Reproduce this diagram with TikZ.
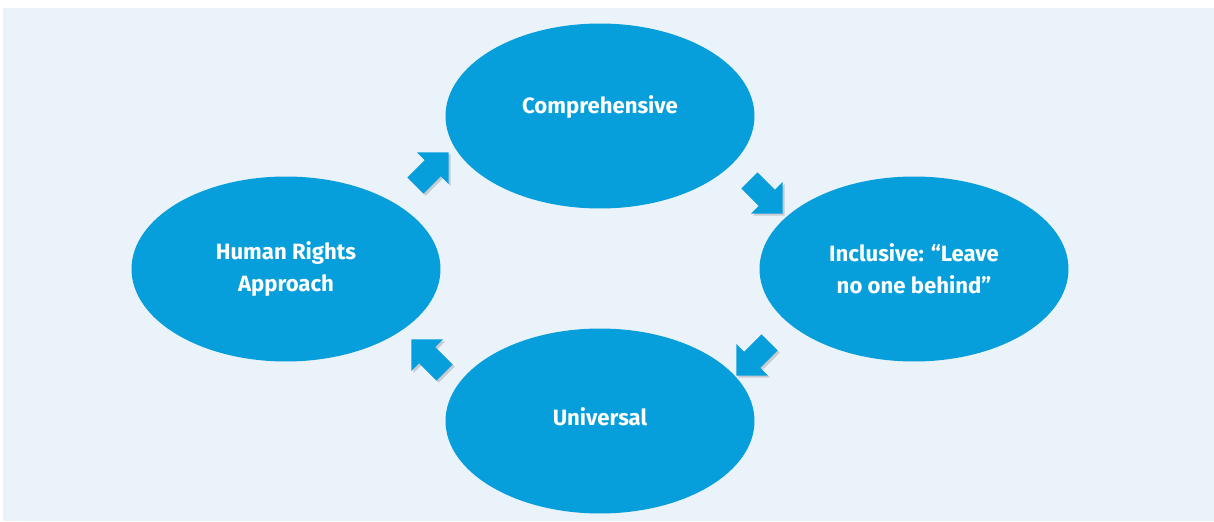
\documentclass[tikz,border=0pt]{standalone}
\usepackage{fontspec}
\setmainfont{Fira Sans}
\usepackage{tikz}
\usetikzlibrary{shapes.geometric, shapes.arrows, shadows}
\definecolor{panelblue}{HTML}{EAF2FA}
\definecolor{bubbleblue}{HTML}{079FDB}
\tikzset{
x=0.02cm, y=0.02cm, % one unit is one pixel of the page
bubble/.style={ellipse, fill=bubbleblue, minimum width=6.18cm, minimum height=3.7cm, inner sep=0pt, text=white, font=\bfseries\fontsize{12.6}{18}\selectfont, align=center}, % the four ellipses
blockarrow/.style={single arrow, fill=bubbleblue, inner xsep=0pt, inner ysep=0.22cm, minimum height=0.94cm, single arrow head extend=0.22cm, single arrow tip angle=90, drop shadow={shadow xshift=1.2pt, shadow yshift=-1.2pt, fill=black!35}}, % the fat arrows between them
}

\begin{document}
\begin{tikzpicture}
        \useasboundingbox (0,0) rectangle (1214,-521);
        \fill[panelblue] (3,-8) rectangle (1214,-521);

        \node[bubble, text depth=13.6pt] (comp) at (600,-116) {Comprehensive};
        \node[bubble] (hr) at (286,-269) {Human Rights\\Approach};
        \node[bubble] (incl) at (914,-269) {Inclusive: “Leave\\no one behind”};
        \node[bubble, text depth=5pt] (univ) at (600,-421) {Universal};

        \node[blockarrow, rotate=45] (a1) at (428,-173) {};
        \node[blockarrow, rotate=-45] (a2) at (762,-193) {};
        \node[blockarrow, rotate=-135] (a3) at (757,-355) {};
        \node[blockarrow, rotate=135] (a4) at (432,-360) {};
      \end{tikzpicture}
\end{document}
